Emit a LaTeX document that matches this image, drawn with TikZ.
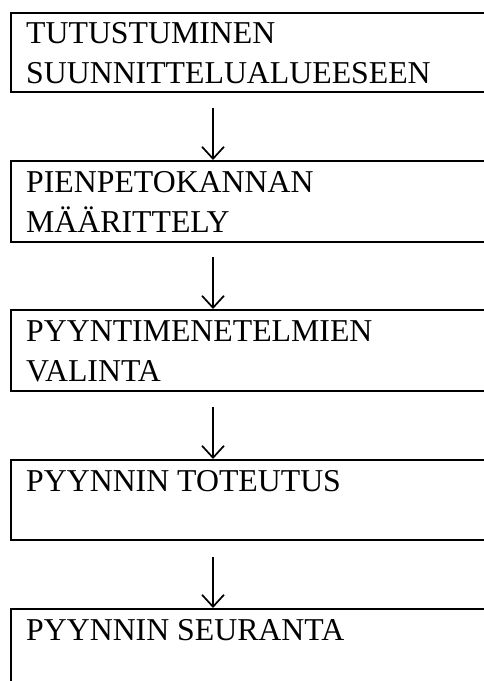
\documentclass[tikz,border=0pt]{standalone}
\usepackage{fontspec}
\setmainfont{Liberation Serif}
\usetikzlibrary{arrows.meta}
\begin{document}
\begin{tikzpicture}[x=1pt,y=-1pt,
  stepbox/.style={draw=black,line width=1.8pt,rectangle,inner sep=0pt,anchor=north west,minimum width=480pt},
  lbl/.style={anchor=base west,inner sep=0pt,font=\fontsize{31.8}{40}\selectfont},
  arr/.style={line width=1.7pt,-{Straight Barb[length=12pt,width=22pt,line width=1.7pt]}}]
\useasboundingbox (0,0) rectangle (484,681);
\clip (0,0) rectangle (484,681);
\node[stepbox,minimum height=79pt] (b1) at (10,12) {};
\node[stepbox,minimum height=81pt] (b2) at (10,160) {};
\node[stepbox,minimum height=81pt] (b3) at (10,309) {};
\node[stepbox,minimum height=80pt] (b4) at (10,459) {};
\node[stepbox,minimum height=100pt] (b5) at (10,608) {};
\node[lbl] (t1a) at (26,43.5) {TUTUSTUMINEN};
\node[lbl] (t1b) at (26,83.5) {SUUNNITTELUALUEESEEN};
\node[lbl] (t2a) at (26,192.3) {PIENPETOKANNAN};
\node[lbl] (t2b) at (26,232.3) {MÄÄRITTELY};
\node[lbl] (t3a) at (26,341.5) {PYYNTIMENETELMIEN};
\node[lbl] (t3b) at (26,381.5) {VALINTA};
\node[lbl] (t4) at (26,491.7) {PYYNNIN TOTEUTUS};
\node[lbl] (t5) at (26,640.3) {PYYNNIN SEURANTA};
\coordinate (s1) at (213,108);
\coordinate (s2) at (213,257);
\coordinate (s3) at (213,407);
\coordinate (s4) at (213,557);
\draw[arr] (s1) -- (s1 |- b2.north);
\draw[arr] (s2) -- (s2 |- b3.north);
\draw[arr] (s3) -- (s3 |- b4.north);
\draw[arr] (s4) -- (s4 |- b5.north);
\end{tikzpicture}
\end{document}
